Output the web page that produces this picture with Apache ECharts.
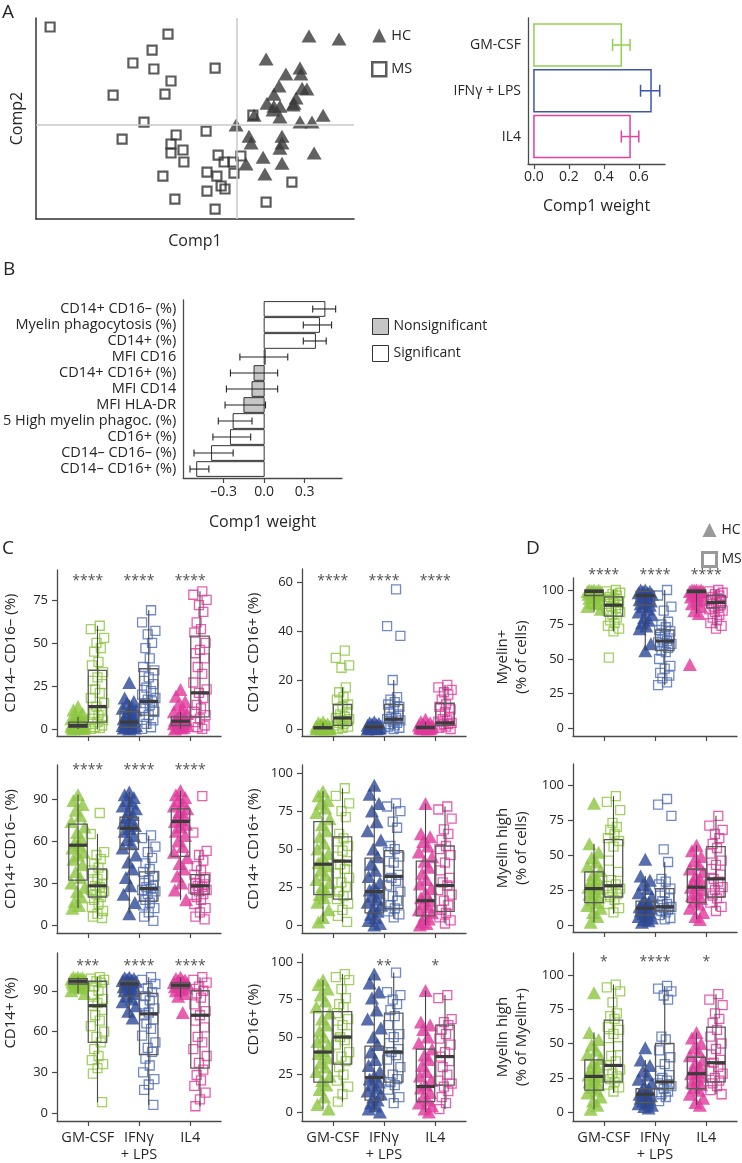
<!DOCTYPE html>
<html><head><meta charset="utf-8">
<script src="https://cdn.jsdelivr.net/npm/echarts@6/dist/echarts.min.js"></script>
<style>html,body{margin:0;padding:0;background:#fff}#c{width:742px;height:1163px}</style>
</head><body><div id="c"></div>
<script>
// ---------------- DATA ----------------
// Panel A: PLS-DA scores (Comp1, Comp2)
const scatterHC = [[2.40,2.97],[3.40,2.87],[0.97,2.20],[1.63,1.70],[2.10,1.90],[2.13,1.70],[1.40,1.30],[2.17,1.23],[2.33,1.20],[1.23,1.03],[1.97,0.90],[1.90,0.73],[1.00,0.73],[1.23,0.63],[1.43,0.63],[1.20,0.50],[0.57,0.33],[1.43,0.27],[2.87,0.33],[2.10,0.10],[2.50,0.10],[-0.03,0.00],[0.40,-0.37],[0.47,-0.60],[1.50,-0.37],[1.50,-0.60],[1.43,-0.77],[2.57,-0.93],[0.87,-1.07],[0.30,-1.30],[1.50,-1.27],[0.93,-1.63],[1.87,0.67]];
const scatterMS = [[-6.23,3.27],[-2.30,3.03],[-2.83,2.50],[-3.47,2.07],[-2.77,1.87],[-0.73,1.90],[-2.20,1.47],[-4.13,1.00],[-2.40,1.03],[-3.10,0.10],[-3.83,-0.47],[-2.03,-0.33],[-1.03,-0.20],[-2.20,-0.63],[-2.20,-0.93],[-1.80,-0.83],[-1.77,-1.23],[-2.47,-1.70],[-2.07,-2.47],[-0.73,-2.80],[-1.00,-1.57],[-1.00,-2.20],[-0.67,-1.70],[-0.63,-1.00],[-0.43,-1.23],[-0.13,-1.23],[-0.10,-1.60],[0.13,-1.03],[-0.53,-2.03],[-0.40,-2.13],[0.53,0.33],[0.97,-2.57],[1.83,-1.90]];

// Panel A: Comp1 weights per condition
const aBarCategories = ['GM-CSF', 'IFNγ + LPS', 'IL4'];
const aBarWeights = [0.50, 0.67, 0.55];
const aBarErrLow = [0.45, 0.61, 0.50];
const aBarErrHigh = [0.55, 0.72, 0.60];
const aBarTicks = [0, 0.2, 0.4, 0.6];

// Panel B: Comp1 weights per variable
const bLabels = ['CD14+ CD16– (%)', 'Myelin phagocytosis (%)', 'CD14+ (%)', 'MFI CD16', 'CD14+ CD16+ (%)', 'MFI CD14', 'MFI HLA-DR', '5 High myelin phagoc. (%)', 'CD16+ (%)', 'CD14– CD16– (%)', 'CD14– CD16+ (%)'];
const bWeights = [0.45, 0.41, 0.38, 0.005, -0.075, -0.09, -0.15, -0.23, -0.25, -0.39, -0.50];
const bErrLow = [0.36, 0.29, 0.29, -0.18, -0.25, -0.28, -0.29, -0.34, -0.38, -0.52, -0.55];
const bErrHigh = [0.53, 0.50, 0.46, 0.175, 0.10, 0.10, 0.01, -0.09, -0.10, -0.23, -0.41];
const bSignificant = [true, true, true, false, false, false, false, true, true, true, true];
const bTicks = [-0.3, 0, 0.3];

// Panels C/D: groups
const groups = ['GM-CSF', 'IFNγ\n+ LPS', 'IL4'];

// C1: CD14– CD16– (%)
const c1HC = [[13,11,9,8,7,6,5,5,4,4,3,3,3,2,2,2,2,1.5,1.5,1,1,1,0.8,0.5,0.5,0.3,0.2,0],
              [27,18,16,15,13,12,11,10,9,8,7,6,5,5,4,4,3,3,2,2,2,1,1,1,0.5,0.5,0],
              [23,19,16,14,12,10,9,8,7,6,6,5,5,4,4,4,3,3,3,2,2,1,1,0.5,0]];
const c1MS = [[60,58,53,50,47,45,39,37,33,30,28,26,23,21,18,15,13,11,9,8,6,5,4,3,2,1,0.5,0],
              [69,62,57,55,50,47,41,36,34,30,28,26,24,22,20,18,17,16,15,14,12,10,8,7,5,3,1,0],
              [80,78,75,72,68,62,58,56,50,46,44,41,36,32,27,23,21,18,14,12,10,8,6,4,2,1,0]];
const c1HCbox = [[0,1,2,4,7],[0,1,4,10,17],[0,2,4.5,7,10]];
const c1MSbox = [[0,4,13,34,60],[0,8,16,35,69],[0,7,21,54,80]];
const c1Stars = ['****','****','****'];
const c1Ticks = [0,25,50,75];

// C2: CD14– CD16+ (%)
const c2HC = [[3,2.5,2,1.8,1.5,1.2,1,1,0.8,0.8,0.6,0.5,0.5,0.4,0.3,0.3,0.2,0.2,0.1,0.1,0,0],
              [3,2.5,2.2,2,1.8,1.5,1.2,1,1,0.8,0.8,0.6,0.5,0.5,0.4,0.3,0.2,0.1,0],
              [4,3,2.5,2,1.8,1.5,1.2,1,0.9,0.8,0.6,0.5,0.5,0.4,0.3,0.2,0.1,0]];
const c2MS = [[32,29,26,25,17,15,13,12,10,9,8,7,6,5,4.5,4,3.5,3,2.5,2,1.5,1,0.5,0],
              [57,42,38,20,13,12,11,10,9,8,7,6,5,4.5,4,3.5,3,2.5,2,1.5,1,0.5,0],
              [18,17,16,15,14,12,10,9,8,7,6,5,4,3.5,3,2.5,2,2,1.5,1,0.5,0]];
const c2HCbox = [[0,0.2,0.5,1,2.5],[0,0.3,0.8,1.5,3],[0,0.2,0.6,1.2,3]];
const c2MSbox = [[0,1.5,4.5,10,17],[0,2.5,4,10,20],[0,1.5,2.5,10.5,18]];
const c2Stars = ['****','****','****'];
const c2Ticks = [0,20,40,60];

// D1: Myelin+ (% of cells)
const d1HC = [[100,100,100,99.5,99,99,99,98.5,98,98,97,97,96,95,94,93,91,90,88,86],
              [100,100,99,99,98,98,97,96,96,95,94,93,92,91,90,89,88,86,84,82,80,78,76,74,72,61,56],
              [100,100,100,100,99.5,99,99,98.5,98,97,96,95,93,92,90,88,85,83,46]];
const d1MS = [[100,99,98,97,96,95,94,93,92,91,90,89,88,87,85,84,82,80,78,76,74,72,70,51],
              [100,96,88,85,77,75,73,71,70,68,66,65,64,63,62,61,60,58,56,55,50,45,43,40,38,36,33,31],
              [100,99,98,97,96,95,94,93,92,91,90,89,88,87,86,85,84,82,80,78,76,74,72]];
const d1HCbox = [[84,96,99,100,100],[56,89,96,99,100],[83,98,99,100,100]];
const d1MSbox = [[70,81,89,95,100],[31,56,63,71,100],[72,87,91,96,100]];
const d1Stars = ['****','****','****'];
const d1Ticks = [0,25,50,75,100];

// C3: CD14+ CD16– (%)
const c3HC = [[93,89,86,82,78,74,70,66,62,59,57,55,52,50,47,43,38,34,30,27,24,20,17,14,12],
              [95,93,91,89,87,85,83,81,79,77,75,73,71,69,67,64,61,58,55,50,45,40,34,28,22,16,8],
              [96,93,91,89,87,85,83,81,79,77,75,74,72,70,67,64,60,56,52,48,44,40,35,30,25,18]];
const c3MS = [[80,65,52,50,47,44,41,39,36,33,31,29,28,27,25,24,22,20,18,15,13,10,8,6,5],
              [64,62,56,52,48,44,40,38,35,32,30,28,27,26,25,24,22,20,18,16,14,12,9,6,3],
              [92,66,53,50,46,42,39,36,34,32,30,29,28,27,26,25,24,22,20,18,15,12,9,6,4]];
const c3HCbox = [[12,32,57,72,93],[8,54,69,77,95],[18,49,74,83,96]];
const c3MSbox = [[5,20,28,40,65],[3,17,26,38,64],[4,22,28,36,53]];
const c3Stars = ['****','****','****'];
const c3Ticks = [0,30,60,90];

// C4: CD14+ CD16+ (%)
const c4HC = [[88,85,82,80,77,74,70,66,62,58,54,50,47,44,41,39,36,33,30,28,25,22,20,18,15,10,5,2],
              [92,86,80,75,68,62,56,50,45,40,36,32,28,25,23,21,19,17,15,13,11,9,7,5,3,1,0],
              [80,60,58,55,52,48,45,42,38,34,30,27,24,21,18,16,14,12,10,8,6,4,2,1,0]];
const c4MS = [[90,85,80,75,71,60,57,55,52,49,45,42,40,37,34,31,28,25,22,19,17,14,10,6,2],
              [80,78,75,68,64,52,50,48,45,41,36,33,31,29,26,22,19,16,13,11,9,7,5],
              [78,76,70,63,60,56,52,50,46,41,36,31,28,26,23,20,16,13,10,8,5,3,1]];
const c4HCbox = [[2,20,40,68,88],[0,8,22,44,92],[0,6,16,42,80]];
const c4MSbox = [[2,17,42,58,90],[4,11,32,49,80],[1,9,26,52,78]];
const c4Stars = ['','',''];
const c4Ticks = [0,25,50,75,100];

// D2: Myelin high (% of cells)
const d2HC = [[87,58,52,48,45,42,39,36,33,31,29,27,26,24,22,20,18,16,14,12,9,6,2],
              [47,35,32,29,26,23,20,18,16,15,14,13,12,11,10,9,8,7,6,5,4,3,2],
              [57,53,49,46,43,40,38,35,33,31,29,27,25,23,21,19,17,15,12,9,6,4]];
const d2MS = [[92,88,82,73,70,68,65,62,60,56,46,38,32,29,28,26,24,22,20,18,15,12,9],
              [90,86,78,54,45,33,31,29,26,23,21,19,17,15,14,13,12,11,10,9,7,5,4],
              [78,71,68,65,62,58,55,51,46,43,40,36,33,31,29,27,25,23,21,19,16,13,10]];
const d2HCbox = [[2,16,26,38,58],[2,7,12,17,35],[4,16,27,40,57]];
const d2MSbox = [[8,20,28,61,92],[4,10,13,26,45],[10,20,33,56,78]];
const d2Stars = ['','',''];
const d2Ticks = [0,25,50,75,100];

// C5: CD14+ (%)
const c5HC = [[100,100,99.5,99,99,98.5,98,98,97.5,97,97,96.5,96,95.5,95,94,93,92,90,88],
              [100,99.5,99,98.5,98,97.5,97,96.5,96,95,94,93,92,91,90,88,86,84,82,79,75,70],
              [100,99,98,97.5,97,96,95.5,95,94.5,94,93.5,93,92,91,90,88,86,74]];
const c5MS = [[100,99,98,97,96,93,90,87,84,81,79,76,72,68,64,60,56,52,47,42,39,36,33,29,8],
              [100,98,95,92,89,86,83,80,77,74,72,69,66,62,57,52,48,45,40,35,30,25,21,17,6],
              [100,98,96,93,90,88,85,80,75,72,68,63,56,52,47,42,37,32,28,24,20,15,10,5]];
const c5HCbox = [[88,95,97,99,100],[70,86,95,97,100],[85,92,94,96,100]];
const c5MSbox = [[8,52,79,97,100],[6,43,73,88,100],[5,33,72,90,100]];
const c5Stars = ['***','****','****'];
const c5Ticks = [0,30,60,90];

// C6: CD16+ (%)
const c6HC = [[88,85,82,78,74,70,66,62,58,54,50,47,44,41,39,36,33,30,27,24,21,18,15,10,5,2],
              [92,86,80,76,68,62,56,50,45,40,35,31,27,24,22,20,18,16,14,12,10,8,6,4,2,0],
              [81,60,58,55,50,46,42,38,35,31,27,24,21,18,16,13,10,8,6,4,2,0]];
const c6MS = [[92,90,88,82,76,72,70,66,62,58,55,52,50,48,45,40,37,34,30,25,21,17,12,7],
              [93,80,78,75,72,68,64,58,52,50,46,42,40,38,35,30,25,22,20,18,15,10,6],
              [78,76,62,60,58,55,52,49,45,40,37,34,30,25,21,19,17,14,10,6,2]];
const c6HCbox = [[2,20,40,67,88],[0,8,23,44,92],[0,7,17,42,81]];
const c6MSbox = [[7,32,50,67,92],[6,20,40,66,93],[2,18,37,58,78]];
const c6Stars = ['','**','*'];
const c6Ticks = [0,25,50,75,100];

// D3: Myelin high (% of Myelin+)
const d3HC = [[87,58,53,49,45,42,39,36,33,31,29,27,26,24,22,20,18,16,14,11,8,5,2],
              [47,38,34,30,27,24,21,19,17,15,14,13,12,11,10,9,8,7,6,5,4,3],
              [58,54,50,47,44,41,38,36,33,31,29,28,26,24,22,20,18,16,13,10,7,5]];
const d3MS = [[93,91,88,80,72,70,68,62,60,57,54,48,41,37,34,31,28,26,24,22,20,18,15],
              [92,90,88,85,82,55,53,45,40,35,30,27,25,23,21,19,17,15,13,11,8],
              [86,82,78,72,68,65,60,55,50,46,42,38,36,33,30,28,25,23,21,19,16,13]];
const d3HCbox = [[2,16,26,38,58],[3,7,13,17,38],[5,17,28,40,58]];
const d3MSbox = [[14,22,34,67,93],[8,17,22,50,92],[13,22,36,62,86]];
const d3Stars = ['*','****','*'];
const d3Ticks = [0,25,50,75,100];

// ---------------- STYLE / LAYOUT ----------------
const FONT = 'Open Sans';
const TXT = '#262626';
const AX = '#4a4a4a';
const hcColors = ['#8cc63f', '#2e4a97', '#e0389b'];
const msColors = ['#8cc63f', '#4d6db5', '#e0389b'];
const aBarColors = ['#92cf52', '#3d57a6', '#e0409f'];
const JIT = [0, -0.09, 0.09, -0.045, 0.045, -0.13, 0.13, -0.02, 0.065, -0.065, 0.02, -0.11, 0.11];
const BOX_HALF = 0.18;

const panels = [
  {hc:c1HC, ms:c1MS, hcBox:c1HCbox, msBox:c1MSbox, stars:c1Stars, ticks:c1Ticks, name:'CD14– CD16– (%)', left:57, top:570, height:166, yMin:-4.1, yMax:92.4, starDy:8, labels:false, gap:37, shift:0},
  {hc:c2HC, ms:c2MS, hcBox:c2HCbox, msBox:c2MSbox, stars:c2Stars, ticks:c2Ticks, name:'CD14– CD16+ (%)', left:302, top:569, height:167, yMin:-2.86, yMax:65.3, starDy:9, labels:false, gap:39, shift:0},
  {hc:d1HC, ms:d1MS, hcBox:d1HCbox, msBox:d1MSbox, stars:d1Stars, ticks:d1Ticks, name:'Myelin+\n(% of cells)', left:573, top:578, height:158, yMin:-5.8, yMax:108.7, starDy:-6, labels:false, gap:42, shift:0},
  {hc:c3HC, ms:c3MS, hcBox:c3HCbox, msBox:c3MSbox, stars:c3Stars, ticks:c3Ticks, name:'CD14+ CD16– (%)', left:57, top:765, height:168, yMin:-5.7, yMax:114.3, starDy:2, labels:false, gap:37, shift:0},
  {hc:c4HC, ms:c4MS, hcBox:c4HCbox, msBox:c4MSbox, stars:c4Stars, ticks:c4Ticks, name:'CD14+ CD16+ (%)', left:302, top:765, height:168, yMin:-5.26, yMax:105.3, starDy:2, labels:false, gap:39, shift:0},
  {hc:d2HC, ms:d2MS, hcBox:d2HCbox, msBox:d2MSbox, stars:d2Stars, ticks:d2Ticks, name:'Myelin high\n(% of cells)', left:573, top:764, height:168, yMin:-5, yMax:115, starDy:2, labels:false, gap:42, shift:0},
  {hc:c5HC, ms:c5MS, hcBox:c5HCbox, msBox:c5MSbox, stars:c5Stars, ticks:c5Ticks, name:'CD14+ (%)', left:57, top:953, height:169, yMin:-5.85, yMax:117.8, starDy:10, labels:true, gap:37, shift:24},
  {hc:c6HC, ms:c6MS, hcBox:c6HCbox, msBox:c6MSbox, stars:c6Stars, ticks:c6Ticks, name:'CD16+ (%)', left:302, top:954, height:168, yMin:-5.97, yMax:105.4, starDy:9, labels:true, gap:39, shift:18},
  {hc:d3HC, ms:d3MS, hcBox:d3HCbox, msBox:d3MSbox, stars:d3Stars, ticks:d3Ticks, name:'Myelin high\n(% of Myelin+)', left:573, top:953, height:169, yMin:-6.5, yMax:116, starDy:6, labels:true, gap:42, shift:0}
];

const axLine = {show:true, onZero:false, lineStyle:{color:AX, width:1.3}};
const axTickStyle = {color:AX, width:1.2};
const lblStyle = {color:TXT, fontFamily:FONT, fontSize:13};
const lblStyle14 = {color:TXT, fontFamily:FONT, fontSize:14};
const nameStyle = {color:TXT, fontFamily:FONT, fontSize:16};
const cNameStyle = {color:TXT, fontFamily:FONT, fontSize:15};

const grid = [], xAxis = [], yAxis = [], series = [];

// ---- Panel A scatter ----
grid.push({left:36, top:18, width:318, height:201});
xAxis.push({gridIndex:0, type:'value', min:-6.7, max:3.9, axisLine:{show:true,onZero:false,lineStyle:{color:'#333',width:1.5}}, axisTick:{show:false}, axisLabel:{show:false}, splitLine:{show:false},
  name:'Comp1', nameLocation:'middle', nameGap:14, nameTextStyle:nameStyle});
yAxis.push({gridIndex:0, type:'value', min:-3.13, max:3.57, axisLine:{show:true,onZero:false,lineStyle:{color:'#333',width:1.5}}, axisTick:{show:false}, axisLabel:{show:false}, splitLine:{show:false},
  name:'Comp2', nameLocation:'middle', nameGap:11, nameTextStyle:nameStyle});
series.push({type:'scatter', name:'HC', xAxisIndex:0, yAxisIndex:0, data:scatterHC, symbol:'triangle', symbolSize:[15,13], itemStyle:{color:'#3a3a3a'}, z:3});
series.push({type:'scatter', name:'MS', xAxisIndex:0, yAxisIndex:0, data:scatterMS, symbol:'rect', symbolSize:9, itemStyle:{color:'rgba(255,255,255,0)', borderColor:'#333', borderWidth:2.2}, z:4});
series.push({type:'scatter', name:'cross', xAxisIndex:0, yAxisIndex:0, data:[], z:1,
  markLine:{silent:true, symbol:'none', label:{show:false}, lineStyle:{color:'#c9c9c9', width:1.5, type:'solid'}, data:[{xAxis:0},{yAxis:0}]}});

// ---- Panel A bars ----
grid.push({left:528, top:18, width:137, height:146});
xAxis.push({gridIndex:1, type:'value', min:-0.034, max:0.75, axisLine:axLine, splitLine:{show:false},
  axisTick:{show:true, customValues:aBarTicks, length:5, lineStyle:axTickStyle},
  axisLabel:Object.assign({customValues:aBarTicks, formatter:v=>v.toFixed(1), margin:6}, lblStyle14),
  name:'Comp1 weight', nameLocation:'middle', nameGap:34, nameTextStyle:nameStyle});
yAxis.push({gridIndex:1, type:'value', inverse:true, min:-0.59, max:2.60, axisLine:axLine, splitLine:{show:false},
  axisTick:{show:false}, axisLabel:Object.assign({customValues:[0,1,2], formatter:v=>aBarCategories[Math.round(v)], margin:7}, lblStyle14)});
series.push({type:'custom', name:'aBars', xAxisIndex:1, yAxisIndex:1,
  data:aBarWeights.map((w,i)=>[w,i]),
  renderItem:function(params, api){
    const v=api.value(0), y=api.value(1);
    const p0=api.coord([0,y]), p1=api.coord([v,y]);
    const h=Math.abs(api.size([0,0.92])[1]);
    return {type:'rect', shape:{x:p0[0], y:p0[1]-h/2, width:p1[0]-p0[0], height:h}, style:{fill:'#fff', stroke:aBarColors[params.dataIndex], lineWidth:1.5}};
  }, z:2});
series.push({type:'custom', name:'aErr', xAxisIndex:1, yAxisIndex:1,
  data:aBarErrLow.map((lo,i)=>[lo,aBarErrHigh[i],i]),
  renderItem:function(params, api){
    const lo=api.value(0), hi=api.value(1), y=api.value(2);
    const a=api.coord([lo,y]), b=api.coord([hi,y]);
    const c=aBarColors[params.dataIndex], cap=6;
    const st={stroke:c, lineWidth:1.5};
    return {type:'group', children:[
      {type:'line', shape:{x1:a[0],y1:a[1],x2:b[0],y2:b[1]}, style:st},
      {type:'line', shape:{x1:a[0],y1:a[1]-cap,x2:a[0],y2:a[1]+cap}, style:st},
      {type:'line', shape:{x1:b[0],y1:b[1]-cap,x2:b[0],y2:b[1]+cap}, style:st}]};
  }, z:3});

// ---- Panel B ----
grid.push({left:181, top:300, width:161, height:178});
xAxis.push({gridIndex:2, type:'value', min:-0.6, max:0.577, axisLine:axLine, splitLine:{show:false},
  axisTick:{show:true, customValues:bTicks, length:5, lineStyle:axTickStyle},
  axisLabel:Object.assign({customValues:bTicks, formatter:v=>(v<0?'–':'')+Math.abs(v).toFixed(1), margin:7}, lblStyle14),
  name:'Comp1 weight', nameLocation:'middle', nameGap:36, nameTextStyle:nameStyle});
yAxis.push({gridIndex:2, type:'value', inverse:true, min:-0.56, max:10.56, axisLine:axLine, splitLine:{show:false},
  axisTick:{show:false}, axisLabel:Object.assign({customValues:[0,1,2,3,4,5,6,7,8,9,10], formatter:v=>bLabels[Math.round(v)], margin:7}, lblStyle14, {fontSize:14.5})});
function bBarItem(fill){
  return function(params, api){
    const v=api.value(0), y=api.value(1);
    const p0=api.coord([0,y]), p1=api.coord([v,y]);
    const h=Math.abs(api.size([0,0.92])[1]);
    return {type:'rect', shape:{x:Math.min(p0[0],p1[0]), y:p0[1]-h/2, width:Math.max(Math.abs(p1[0]-p0[0]),1), height:h}, style:{fill:fill, stroke:'#333', lineWidth:1}};
  };
}
series.push({type:'custom', name:'Nonsignificant', xAxisIndex:2, yAxisIndex:2,
  data:bWeights.map((w,i)=>[w,i]).filter((d,i)=>!bSignificant[i]), renderItem:bBarItem('#c6c6c6'), itemStyle:{color:'#c6c6c6'}, z:2});
series.push({type:'custom', name:'Significant', xAxisIndex:2, yAxisIndex:2,
  data:bWeights.map((w,i)=>[w,i]).filter((d,i)=>bSignificant[i]), renderItem:bBarItem('#fff'), itemStyle:{color:'#fff'}, z:2});
series.push({type:'custom', name:'bErr', xAxisIndex:2, yAxisIndex:2,
  data:bErrLow.map((lo,i)=>[lo,bErrHigh[i],i]),
  renderItem:function(params, api){
    const lo=api.value(0), hi=api.value(1), y=api.value(2);
    const a=api.coord([lo,y]), b=api.coord([hi,y]);
    const cap=3.5, st={stroke:'#222', lineWidth:1.1};
    return {type:'group', children:[
      {type:'line', shape:{x1:a[0],y1:a[1],x2:b[0],y2:b[1]}, style:st},
      {type:'line', shape:{x1:a[0],y1:a[1]-cap,x2:a[0],y2:a[1]+cap}, style:st},
      {type:'line', shape:{x1:b[0],y1:b[1]-cap,x2:b[0],y2:b[1]+cap}, style:st}]};
  }, z:3});

// ---- Panels C/D ----
function renderBox(params, api){
  const x=api.value(0), mn=api.value(1), q1=api.value(2), md=api.value(3), q3=api.value(4), mx=api.value(5);
  const cMin=api.coord([x,mn]), cMax=api.coord([x,mx]), cQ1=api.coord([x,q1]), cQ3=api.coord([x,q3]), cMd=api.coord([x,md]);
  const xl=api.coord([x-BOX_HALF,md])[0], xr=api.coord([x+BOX_HALF,md])[0];
  return {type:'group', children:[
    {type:'line', shape:{x1:cMin[0],y1:cMin[1],x2:cMax[0],y2:cMax[1]}, style:{stroke:'#444', lineWidth:1.1}},
    {type:'rect', shape:{x:xl, y:cQ3[1], width:xr-xl, height:cQ1[1]-cQ3[1]}, style:{fill:'none', stroke:'#5a5a5a', lineWidth:1.3}},
    {type:'line', shape:{x1:xl,y1:cMd[1],x2:xr,y2:cMd[1]}, style:{stroke:'#3c3c3c', lineWidth:3.2}}]};
}

panels.forEach((p, k) => {
  const gi = k + 3;
  grid.push({left:p.left, top:p.top, width:164, height:p.height});
  xAxis.push({gridIndex:gi, type:'value', min:-0.6, max:2.6, axisLine:axLine, splitLine:{show:false},
    axisTick:{show:true, customValues:[0,1,2], length:5, lineStyle:axTickStyle},
    axisLabel:Object.assign({show:p.labels, customValues:[0,1,2], formatter:v=>groups[Math.round(v)], margin:8, lineHeight:17}, lblStyle14, {fontSize:14.5})});
  yAxis.push({gridIndex:gi, type:'value', min:p.yMin, max:p.yMax, axisLine:axLine, splitLine:{show:false},
    axisTick:{show:true, customValues:p.ticks, length:5, lineStyle:axTickStyle},
    axisLabel:Object.assign({customValues:p.ticks, margin:9}, lblStyle),
    name:p.name, nameLocation:'middle', nameGap:p.gap,
    nameTextStyle:Object.assign({lineHeight:19, padding:[0,0,0,p.shift*2]}, cNameStyle)});
  for (let g = 0; g < 3; g++) {
    series.push({type:'scatter', name:'HC', xAxisIndex:gi, yAxisIndex:gi, symbol:'triangle', symbolSize:[14,13],
      data:p.hc[g].map((v,i)=>[g-0.19+JIT[i%JIT.length], v]), itemStyle:{color:hcColors[g]}, z:2});
    series.push({type:'scatter', name:'MS', xAxisIndex:gi, yAxisIndex:gi, symbol:'rect', symbolSize:9,
      data:p.ms[g].map((v,i)=>[g+0.19+JIT[(i+4)%JIT.length], v]), itemStyle:{color:'rgba(255,255,255,0)', borderColor:msColors[g], borderWidth:1.3}, z:3});
  }
  const boxData = [];
  for (let g = 0; g < 3; g++) {
    boxData.push([g-0.19].concat(p.hcBox[g]));
    boxData.push([g+0.19].concat(p.msBox[g]));
  }
  series.push({type:'custom', name:'box'+k, xAxisIndex:gi, yAxisIndex:gi, data:boxData, encode:{x:0, y:[1,2,3,4,5]}, renderItem:renderBox, z:5});
  series.push({type:'scatter', name:'stars'+k, xAxisIndex:gi, yAxisIndex:gi, clip:false, symbolSize:1, itemStyle:{color:'rgba(0,0,0,0)'},
    data:[0,1,2].map(g=>[g, p.yMax]),
    label:{show:true, position:'inside', offset:[0,p.starDy+3], formatter:(d)=>p.stars[d.dataIndex], color:TXT, fontFamily:FONT, fontSize:14}, z:6});
});

const option = {
  animation:false,
  backgroundColor:'#fff',
  textStyle:{fontFamily:FONT},
  grid, xAxis, yAxis, series,
  legend:[
    {data:[{name:'HC', icon:'triangle', itemStyle:{color:'#3a3a3a'}}, {name:'MS', icon:'rect', itemStyle:{color:'rgba(255,255,255,0)', borderColor:'#333', borderWidth:2.5}}],
     orient:'vertical', left:371, top:28, padding:0, itemWidth:14, itemHeight:14, itemGap:18, selectedMode:false, textStyle:{color:TXT, fontFamily:FONT, fontSize:14.5}},
    {data:[{name:'Nonsignificant', icon:'rect', itemStyle:{color:'#c6c6c6', borderColor:'#333', borderWidth:1}}, {name:'Significant', icon:'rect', itemStyle:{color:'#fff', borderColor:'#333', borderWidth:1}}],
     orient:'vertical', left:372, top:318, padding:0, itemWidth:16, itemHeight:16, itemGap:10, selectedMode:false, textStyle:{color:TXT, fontFamily:FONT, fontSize:14}},
    {data:[{name:'HC', icon:'triangle', itemStyle:{color:'#808080'}}, {name:'MS', icon:'rect', itemStyle:{color:'rgba(255,255,255,0)', borderColor:'#808080', borderWidth:3}}],
     orient:'vertical', left:701, top:523, padding:0, itemWidth:14, itemHeight:14, itemGap:14, selectedMode:false, textStyle:{color:TXT, fontFamily:FONT, fontSize:14}}
  ],
  graphic:[
    {type:'text', left:2, top:3, style:{text:'A', fontSize:19, fontFamily:FONT, fill:TXT}},
    {type:'text', left:3, top:260, style:{text:'B', fontSize:19, fontFamily:FONT, fill:TXT}},
    {type:'text', left:2, top:539, style:{text:'C', fontSize:19, fontFamily:FONT, fill:TXT}},
    {type:'text', left:526, top:539, style:{text:'D', fontSize:19, fontFamily:FONT, fill:TXT}}
  ]
};
const chart = echarts.init(document.getElementById('c'), null, {renderer:'canvas'});
chart.setOption(option);
</script></body></html>
